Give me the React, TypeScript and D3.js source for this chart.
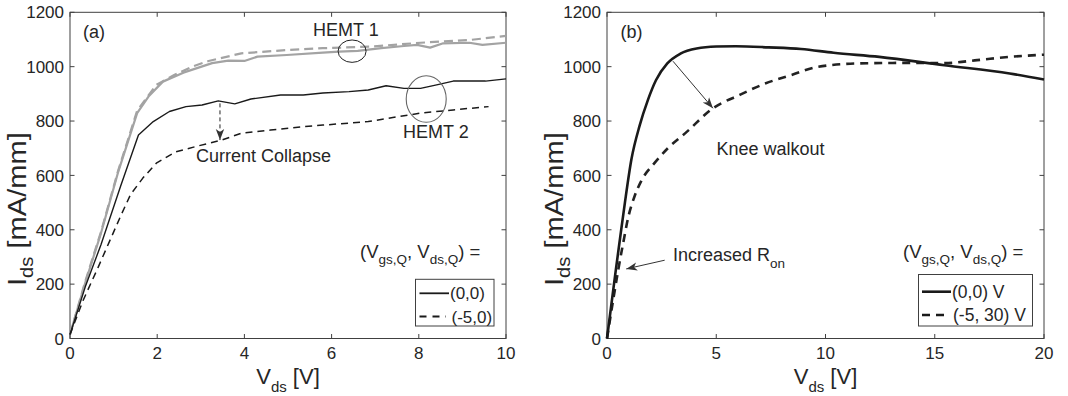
import React from 'react';
import * as d3 from 'd3';

const FONT = '"Liberation Sans", Arial, Helvetica, sans-serif';

// (a) HEMT 1 (grey) and HEMT 2 (black), quiescent bias (0,0) solid, (-5,0) dashed
const hemt1SolidV = [0, 0.35, 0.71, 1.1, 1.54, 1.8, 2.13, 2.6, 3.26, 3.63, 4.0, 4.3, 4.97, 5.8, 6.17, 6.6, 7.14, 7.66, 7.96, 8.26, 8.56, 9.16, 9.46, 10];
const hemt1SolidI = [15, 205, 387, 610, 829, 890, 945, 978, 1013, 1022, 1021, 1037, 1043, 1052, 1055, 1058, 1068, 1076, 1080, 1070, 1086, 1088, 1080, 1088];

const hemt1DashV = [0, 0.35, 0.71, 1.1, 1.54, 1.98, 2.4, 2.8, 3.18, 3.93, 4.97, 5.8, 6.92, 8.04, 9.16, 10];
const hemt1DashI = [15, 210, 392, 615, 838, 933, 970, 1000, 1021, 1049, 1061, 1068, 1074, 1088, 1098, 1113];

const hemt2SolidV = [0, 0.35, 0.71, 1.16, 1.57, 1.91, 2.28, 2.66, 3.03, 3.4, 3.78, 4.15, 4.83, 5.35, 5.8, 6.4, 6.84, 7.25, 7.66, 8.04, 8.41, 8.79, 9.53, 10];
const hemt2SolidI = [15, 190, 345, 560, 749, 798, 835, 853, 859, 874, 863, 881, 896, 896, 903, 908, 914, 930, 920, 920, 933, 947, 947, 955];

const hemt2DashV = [0, 0.3, 0.64, 1.16, 1.39, 1.67, 1.98, 2.43, 2.88, 3.48, 3.93, 4.6, 5.35, 5.8, 6.84, 7.29, 8.04, 8.79, 9.6];
const hemt2DashI = [15, 140, 260, 450, 530, 590, 645, 687, 706, 730, 755, 767, 779, 785, 798, 810, 829, 841, 853];

// (b) quiescent (0,0) V solid, (-5, 30) V dashed
const bSolidV = [0, 0.2, 0.4, 0.6, 0.82, 1.12, 1.5, 1.87, 2.24, 2.76, 3.36, 4.1, 5.0, 5.9, 7.39, 8.88, 10.37, 12.46, 15.44, 18.43, 20];
const bSolidI = [0, 125, 250, 370, 500, 660, 785, 877, 950, 1012, 1048, 1067, 1074, 1075, 1071, 1065, 1051, 1036, 1005, 975, 953];

const bDashV = [0, 0.3, 0.52, 0.75, 0.97, 1.27, 1.57, 2.17, 2.76, 3.66, 4.85, 6.04, 7.24, 8.43, 9.62, 11.57, 13.95, 15.44, 16.94, 18.43, 20];
const bDashI = [0, 150, 255, 355, 445, 525, 580, 645, 698, 761, 847, 895, 938, 969, 999, 1012, 1014, 1013, 1024, 1036, 1044];

const yTicks = [0, 200, 400, 600, 800, 1000, 1200];
const xTicksA = [0, 2, 4, 6, 8, 10];
const xTicksB = [0, 5, 10, 15, 20];

const TOP = 12.3;
const BOTTOM = 338.5;
const AXIS = '#404040';
const TEXT = '#262626';

type Curve = { v: number[]; i: number[]; color: string; width: number; dash?: string; smooth?: boolean };
type Scale = d3.ScaleLinear<number, number>;

const Panel = ({ left, right, xMax, xTicks, curves, children }: {
  left: number; right: number; xMax: number; xTicks: number[]; curves: Curve[];
  children: (x: Scale, y: Scale) => React.ReactNode;
}) => {
  const x = d3.scaleLinear().domain([0, xMax]).range([left, right]);
  const y = d3.scaleLinear().domain([0, 1200]).range([BOTTOM, TOP]);
  const tk = 4.5;
  const cx = (left + right) / 2;

  return (
    <g>
      <rect x={left} y={TOP} width={right - left} height={BOTTOM - TOP} fill="#fff" stroke={AXIS} />
      {xTicks.map(t => (
        <g key={'x' + t}>
          <line x1={x(t)} x2={x(t)} y1={BOTTOM} y2={BOTTOM - tk} stroke={AXIS} />
          <line x1={x(t)} x2={x(t)} y1={TOP} y2={TOP + tk} stroke={AXIS} />
          <text x={x(t)} y={359} textAnchor="middle" fontSize={17} fill={TEXT}>{t}</text>
        </g>
      ))}
      {yTicks.map(t => (
        <g key={'y' + t}>
          <line x1={left} x2={left + tk} y1={y(t)} y2={y(t)} stroke={AXIS} />
          <line x1={right} x2={right - tk} y1={y(t)} y2={y(t)} stroke={AXIS} />
          <text x={left - 6} y={y(t)} dy="0.36em" textAnchor="end" fontSize={17} fill={TEXT}>{t}</text>
        </g>
      ))}
      {curves.map((c, k) => {
        const line = d3.line<number>()
          .x((_, j) => x(c.v[j]))
          .y(d => y(d))
          .curve(c.smooth ? d3.curveMonotoneX : d3.curveLinear);
        return (
          <path key={k} d={line(c.i) || ''} fill="none" stroke={c.color} strokeWidth={c.width}
            strokeDasharray={c.dash} strokeLinejoin="round" />
        );
      })}
      {children(x, y)}
      <text x={cx} y={384} textAnchor="middle" fontSize={22} fill={TEXT}>
        V<tspan dy={8} fontSize={15}>ds</tspan><tspan dy={-8}> [V]</tspan>
      </text>
      <text transform={`translate(${left - 44},286) rotate(-90) scale(1.12,1)`} fontSize={26} fill={TEXT}>
        I<tspan dy={7} fontSize={18}>ds</tspan><tspan dy={-7}> [mA/mm]</tspan>
      </text>
    </g>
  );
};

const LegendTitle = ({ x, y }: { x: number; y: number }) => (
  <text x={x} y={y} fontSize={18.5} fill={TEXT}>
    (V<tspan dy={6} fontSize={13.5}>gs,Q</tspan><tspan dy={-6}>, V</tspan>
    <tspan dy={6} fontSize={13.5}>ds,Q</tspan><tspan dy={-6}>) =</tspan>
  </text>
);

export default function App() {
  const grey = '#a3a3a3';
  const black = '#1a1a1a';

  const curvesA: Curve[] = [
    { v: hemt1DashV, i: hemt1DashI, color: grey, width: 2.2, dash: '9,5' },
    { v: hemt1SolidV, i: hemt1SolidI, color: grey, width: 2.2 },
    { v: hemt2SolidV, i: hemt2SolidI, color: black, width: 1.4 },
    { v: hemt2DashV, i: hemt2DashI, color: black, width: 1.5, dash: '7,5' },
  ];
  const curvesB: Curve[] = [
    { v: bDashV, i: bDashI, color: '#222', width: 2.6, dash: '8,6', smooth: true },
    { v: bSolidV, i: bSolidI, color: '#1a1a1a', width: 2.6, smooth: true },
  ];

  return (
    <svg width={1068} height={396} style={{ position: 'absolute', left: 0, top: 0, background: '#fff' }}
      fontFamily={FONT}>
      <defs>
        <marker id="head" markerUnits="userSpaceOnUse" markerWidth={12} markerHeight={10}
          refX={11} refY={5} orient="auto">
          <path d="M0,0.8 L11,5 L0,9.2 L3,5 Z" fill="#333" />
        </marker>
      </defs>

      <Panel left={70} right={506} xMax={10} xTicks={xTicksA} curves={curvesA}>
        {(x, y) => (
          <g>
            <text x={83} y={38} fontSize={18} fill={TEXT}>(a)</text>
            <text x={313} y={36} fontSize={18} fill={TEXT}>HEMT 1</text>
            <ellipse cx={x(6.47)} cy={y(1057)} rx={14} ry={11.2} fill="none" stroke="#222" strokeWidth={1} />
            <text x={403} y={138} fontSize={18} fill={TEXT}>HEMT 2</text>
            <ellipse cx={x(8.17)} cy={y(881)} rx={20} ry={23.3} fill="none" stroke="#666" strokeWidth={1.1} />
            <line x1={x(3.44)} x2={x(3.44)} y1={y(865)} y2={y(730)} stroke="#222" strokeWidth={1}
              strokeDasharray="4,3" markerEnd="url(#head)" />
            <text x={196} y={161.5} fontSize={18} fill={TEXT}>Current Collapse</text>
            <LegendTitle x={360} y={258} />
            <rect x={415.5} y={279.3} width={78.5} height={46.7} fill="#fff" stroke={AXIS} />
            <line x1={419.5} x2={449} y1={293.3} y2={293.3} stroke={black} strokeWidth={1.8} />
            <line x1={419.5} x2={446} y1={316.5} y2={316.5} stroke={black} strokeWidth={1.8} strokeDasharray="7,6" />
            <text x={450} y={293.3} dy="0.36em" fontSize={17} fill={TEXT}>(0,0)</text>
            <text x={451.5} y={316.5} dy="0.36em" fontSize={17} fill={TEXT}>(-5,0)</text>
          </g>
        )}
      </Panel>

      <Panel left={607} right={1044} xMax={20} xTicks={xTicksB} curves={curvesB}>
        {(x, y) => (
          <g>
            <text x={620.5} y={38} fontSize={18} fill={TEXT}>(b)</text>
            <line x1={x(3.02)} y1={y(1020)} x2={x(4.85)} y2={y(847)} stroke="#333" strokeWidth={1}
              markerEnd="url(#head)" />
            <text x={716.5} y={154.5} fontSize={18} fill={TEXT}>Knee walkout</text>
            <line x1={x(2.64)} y1={y(288)} x2={x(0.88)} y2={y(256)} stroke="#333" strokeWidth={1}
              markerEnd="url(#head)" />
            <text x={673} y={260.5} fontSize={18} fill={TEXT}>
              Increased R<tspan dy={7.5} fontSize={13.5}>on</tspan>
            </text>
            <LegendTitle x={903} y={258} />
            <rect x={918.5} y={274.5} width={114} height={51.5} fill="#fff" stroke={AXIS} />
            <line x1={922} x2={951} y1={291.7} y2={291.7} stroke={black} strokeWidth={2.6} />
            <line x1={922} x2={948} y1={315} y2={315} stroke={black} strokeWidth={2.6} strokeDasharray="8,6" />
            <text x={952} y={291.7} dy="0.36em" fontSize={17.5} fill={TEXT}>(0,0) V</text>
            <text x={953} y={315} dy="0.36em" fontSize={17.5} fill={TEXT}>(-5, 30) V</text>
          </g>
        )}
      </Panel>
    </svg>
  );
}
